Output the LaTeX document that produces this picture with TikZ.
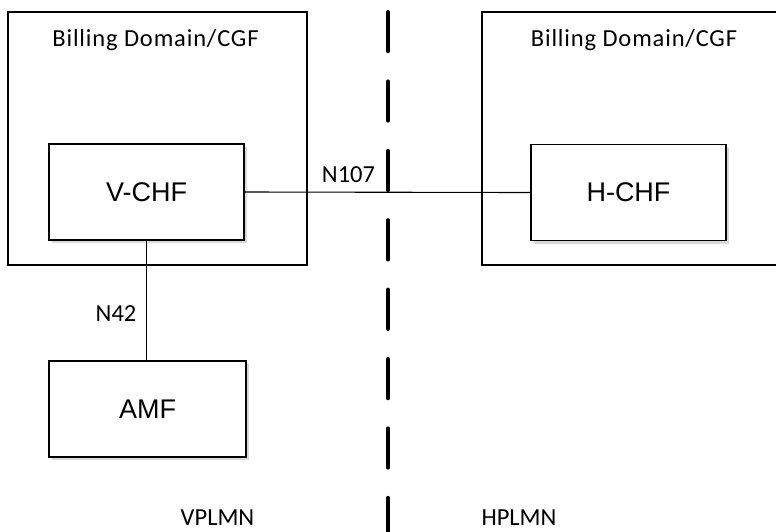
\documentclass[tikz,border=0pt]{standalone}
\usepackage{fontspec}
\setmainfont{Carlito}
\newfontfamily\arialfont{Liberation Sans}
\newfontfamily\widecal[LetterSpace=3.5]{Carlito}
\usetikzlibrary{shadows}
\begin{document}
\begin{tikzpicture}[x=1pt,y=-1pt,
  frame/.style={draw, line width=1.3pt, inner sep=0pt, outer sep=0pt},
  nfbox/.style={draw, line width=1.3pt, fill=white, inner sep=0pt, outer sep=0pt,
    minimum width=195pt, minimum height=96pt,
    font=\arialfont\fontsize{27}{27}\selectfont,
    drop shadow={shadow xshift=3pt, shadow yshift=-3pt, fill=black!15, opacity=1}},
  lbl/.style={inner sep=0pt, outer sep=0pt, anchor=base, font=\fontsize{24.5}{24.5}\selectfont},
  title/.style={lbl, font=\widecal\fontsize{24.5}{24.5}\selectfont},
  link/.style={line width=1.1pt},
  divider/.style={line width=4.5pt, line cap=round, dash pattern=on 38.8pt off 30.6pt}]
\clip (0,0) rectangle (776,531);
\fill[white] (0,0) rectangle (776,531);
% outer domains
\node[frame, minimum width=299pt, minimum height=253pt] (ldom) at (157.5,138.5) {};
\node[frame, minimum width=308pt, minimum height=253pt] (rdom) at (636,138.5) {};
\node[title] (ltitle) at (155.5,46.7) {Billing Domain/CGF};
\node[title] (rtitle) at (634,46.7) {Billing Domain/CGF};
% divider
\coordinate (dtop) at (388,12.25);
\coordinate (dbot) at (388,540);
\draw[divider] (dtop) -- (dbot);
% function boxes
\node[nfbox] (vchf) at (146.5,192) {V-CHF};
\node[nfbox] (hchf) at (628.5,192.5) {H-CHF};
\node[nfbox, minimum width=197pt] (amf) at (147.5,409) {AMF};
% connectors
\draw[link] (vchf.east) -- (hchf.west);
\draw[link] (vchf.south) -- (vchf.south |- amf.north);
% labels
\node[lbl] (n107) at (348.5,182) {N107};
\node[lbl] (n42) at (116,321) {N42};
\node[lbl] (vplmn) at (217.5,525.5) {VPLMN};
\node[lbl] (hplmn) at (519,525) {HPLMN};
\end{tikzpicture}
\end{document}
